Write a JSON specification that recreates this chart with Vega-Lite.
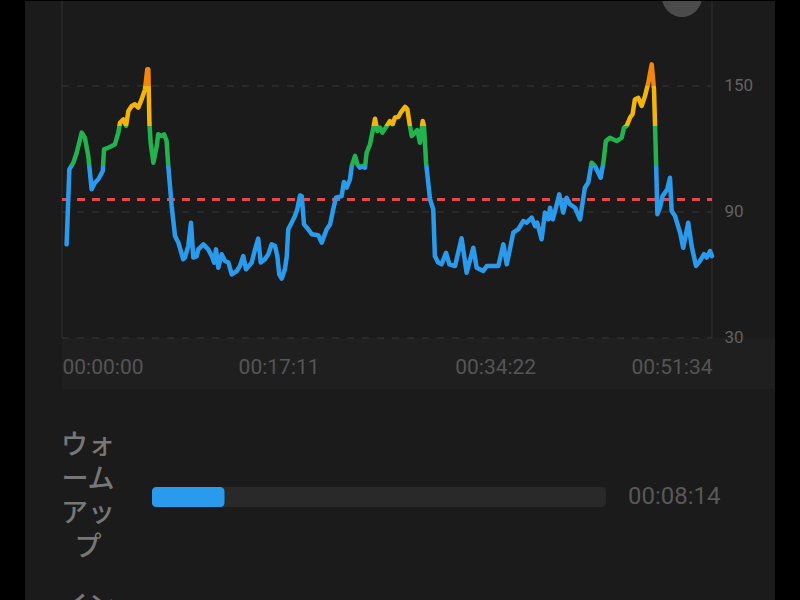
{
  "$schema": "https://vega.github.io/schema/vega-lite/v6.json",
  "background": "#000000",
  "padding": {"left": 25, "right": 25, "top": 0, "bottom": 0},
  "spacing": 0,
  "config": {"view": {"fill": "#1b1b1b", "stroke": null}, "concat": {"spacing": 0}},
  "datasets": {
    "hr": [
      {"t":22,"bpm":74.6},{"t":35,"bpm":110.3},{"t":54,"bpm":113.5},{"t":70,"bpm":118.2},{"t":94,"bpm":127.8},{"t":109,"bpm":125.4},{"t":125,"bpm":116.7},{"t":141,"bpm":100.8},{"t":157,"bpm":104},{"t":173,"bpm":105.6},{"t":194,"bpm":109.5},{"t":200,"bpm":119.8},{"t":220,"bpm":120.6},{"t":237,"bpm":121.4},{"t":252,"bpm":122.2},{"t":268,"bpm":127.8},{"t":276,"bpm":132.5},{"t":292,"bpm":134.1},{"t":305,"bpm":131},{"t":316,"bpm":138.1},{"t":332,"bpm":140.5},{"t":347,"bpm":141.3},{"t":363,"bpm":139.7},{"t":379,"bpm":143.6},{"t":395,"bpm":148.4},{"t":406,"bpm":158},{"t":411,"bpm":158},{"t":416,"bpm":132.5},{"t":422,"bpm":123},{"t":435,"bpm":113.5},{"t":451,"bpm":121.4},{"t":458,"bpm":127},{"t":475,"bpm":126.2},{"t":486,"bpm":127},{"t":498,"bpm":123.8},{"t":506,"bpm":111.9},{"t":522,"bpm":92.9},{"t":538,"bpm":78.6},{"t":554,"bpm":75.4},{"t":577,"bpm":67.5},{"t":585,"bpm":68.3},{"t":601,"bpm":73.8},{"t":614,"bpm":84.9},{"t":625,"bpm":68.3},{"t":641,"bpm":69},{"t":649,"bpm":72.2},{"t":673,"bpm":74.6},{"t":696,"bpm":72.2},{"t":713,"bpm":69},{"t":724,"bpm":65.9},{"t":733,"bpm":72.2},{"t":744,"bpm":63.5},{"t":760,"bpm":69.9},{"t":776,"bpm":66.7},{"t":792,"bpm":65.9},{"t":808,"bpm":60.3},{"t":832,"bpm":61.9},{"t":847,"bpm":64.3},{"t":863,"bpm":69},{"t":876,"bpm":62.7},{"t":903,"bpm":65.9},{"t":919,"bpm":72.2},{"t":934,"bpm":77.3},{"t":946,"bpm":65.9},{"t":966,"bpm":67.5},{"t":982,"bpm":69.9},{"t":998,"bpm":74.6},{"t":1014,"bpm":73.8},{"t":1025,"bpm":69},{"t":1034,"bpm":60.3},{"t":1046,"bpm":58.3},{"t":1061,"bpm":62.7},{"t":1070,"bpm":69},{"t":1077,"bpm":81.8},{"t":1093,"bpm":84.9},{"t":1109,"bpm":88.1},{"t":1120,"bpm":91.3},{"t":1133,"bpm":97.9},{"t":1141,"bpm":97.6},{"t":1152,"bpm":84.1},{"t":1172,"bpm":81.8},{"t":1189,"bpm":79.4},{"t":1220,"bpm":78.9},{"t":1236,"bpm":75.4},{"t":1260,"bpm":81.8},{"t":1276,"bpm":84.1},{"t":1291,"bpm":91.3},{"t":1304,"bpm":96.8},{"t":1331,"bpm":97.6},{"t":1342,"bpm":104.3},{"t":1355,"bpm":101.6},{"t":1371,"bpm":105.6},{"t":1379,"bpm":111.9},{"t":1395,"bpm":116.7},{"t":1406,"bpm":112.7},{"t":1418,"bpm":111.1},{"t":1431,"bpm":111.9},{"t":1442,"bpm":111.1},{"t":1450,"bpm":118.2},{"t":1466,"bpm":122.2},{"t":1482,"bpm":130.1},{"t":1490,"bpm":134.4},{"t":1501,"bpm":128.6},{"t":1514,"bpm":130.1},{"t":1525,"bpm":127.8},{"t":1546,"bpm":131},{"t":1561,"bpm":133.3},{"t":1574,"bpm":131.8},{"t":1585,"bpm":135},{"t":1601,"bpm":135.2},{"t":1612,"bpm":137.3},{"t":1633,"bpm":140.1},{"t":1644,"bpm":138.9},{"t":1656,"bpm":131},{"t":1665,"bpm":126.2},{"t":1680,"bpm":127.8},{"t":1691,"bpm":129},{"t":1704,"bpm":123},{"t":1717,"bpm":133.3},{"t":1723,"bpm":131},{"t":1733,"bpm":113.5},{"t":1752,"bpm":96},{"t":1767,"bpm":91.3},{"t":1775,"bpm":69},{"t":1791,"bpm":65.9},{"t":1807,"bpm":65.1},{"t":1828,"bpm":70.6},{"t":1844,"bpm":65.1},{"t":1871,"bpm":64.3},{"t":1902,"bpm":77.5},{"t":1926,"bpm":61.1},{"t":1958,"bpm":73},{"t":1974,"bpm":63.5},{"t":2005,"bpm":61.9},{"t":2022,"bpm":64.3},{"t":2077,"bpm":64.3},{"t":2101,"bpm":74.6},{"t":2117,"bpm":65.1},{"t":2132,"bpm":72.2},{"t":2148,"bpm":80.2},{"t":2172,"bpm":81.8},{"t":2196,"bpm":85.7},{"t":2212,"bpm":84.9},{"t":2236,"bpm":87.3},{"t":2252,"bpm":83.3},{"t":2262,"bpm":84.9},{"t":2283,"bpm":77},{"t":2299,"bpm":89.7},{"t":2315,"bpm":86.5},{"t":2323,"bpm":92},{"t":2336,"bpm":86.5},{"t":2351,"bpm":92},{"t":2367,"bpm":98.4},{"t":2386,"bpm":89.7},{"t":2402,"bpm":96.8},{"t":2418,"bpm":93.7},{"t":2442,"bpm":92},{"t":2466,"bpm":86.5},{"t":2478,"bpm":94.4},{"t":2489,"bpm":101.6},{"t":2505,"bpm":104},{"t":2521,"bpm":113.5},{"t":2537,"bpm":111.9},{"t":2564,"bpm":106.3},{"t":2577,"bpm":113.5},{"t":2589,"bpm":123.8},{"t":2608,"bpm":125.4},{"t":2640,"bpm":123.8},{"t":2664,"bpm":125.4},{"t":2675,"bpm":130.1},{"t":2688,"bpm":131},{"t":2704,"bpm":135},{"t":2716,"bpm":136.6},{"t":2727,"bpm":143.6},{"t":2743,"bpm":144.4},{"t":2759,"bpm":140.5},{"t":2775,"bpm":145.2},{"t":2791,"bpm":151.6},{"t":2807,"bpm":160.3},{"t":2818,"bpm":148.4},{"t":2827,"bpm":116.7},{"t":2834,"bpm":88.9},{"t":2846,"bpm":92},{"t":2859,"bpm":97.6},{"t":2881,"bpm":100.8},{"t":2894,"bpm":106.3},{"t":2902,"bpm":90.5},{"t":2918,"bpm":88.1},{"t":2942,"bpm":80.2},{"t":2957,"bpm":73},{"t":2981,"bpm":84.9},{"t":2997,"bpm":73.8},{"t":3018,"bpm":64.3},{"t":3037,"bpm":66.7},{"t":3056,"bpm":69.9},{"t":3069,"bpm":68.3},{"t":3085,"bpm":71.4},{"t":3094,"bpm":69}
    ],
    "grid": [{"bpm": 30, "start": 0, "end": 3094}, {"bpm": 90, "start": 0, "end": 3094}, {"bpm": 150, "start": 0, "end": 3094}],
    "edges": [{"t": 0, "lo": 30, "hi": 190.476}, {"t": 3094, "lo": 30, "hi": 190.476}],
    "zones": [
      {"zone": "ウォームアップ", "label": "ウォ\nーム\nアッ\nプ", "row": 0, "start": 0, "seconds": 494, "total": 3094, "time": "00:08:14"},
      {"zone": "インターバル", "label": "イン\nター\nバル", "row": 1, "start": 0, "total": 3094}
    ]
  },
  "vconcat": [
    {
      "width": 750,
      "height": 388,
      "layer": [
        {
          "data": {"values": [{"start": 0, "end": 3393.9, "lo": 5.714, "hi": 30}]},
          "mark": {"type": "rect", "color": "#1f1f1f"},
          "encoding": {
            "x": {"field": "start", "type": "quantitative", "scale": {"domain": [-176.1, 3393.9], "nice": false, "zero": false}},
            "x2": {"field": "end"},
            "y": {"field": "lo", "type": "quantitative", "scale": {"domain": [5.714, 190.476], "nice": false, "zero": false}},
            "y2": {"field": "hi"}
          }
        },
        {
          "data": {"name": "edges"},
          "mark": {"type": "rule", "color": "#313131", "strokeWidth": 1},
          "encoding": {
            "x": {"field": "t", "type": "quantitative"},
            "y": {"field": "lo", "type": "quantitative"},
            "y2": {"field": "hi"}
          }
        },
        {
          "data": {"name": "grid"},
          "mark": {"type": "rule", "color": "#383838", "strokeWidth": 1, "strokeDash": [7, 8]},
          "encoding": {
            "x": {"field": "start", "type": "quantitative"},
            "x2": {"field": "end"},
            "y": {"field": "bpm", "type": "quantitative"}
          }
        },
        {
          "data": {"values": [{"threshold": 96, "start": 0, "end": 3094}]},
          "mark": {"type": "rule", "color": "#e54848", "strokeWidth": 3, "strokeDash": [8, 7]},
          "encoding": {
            "x": {"field": "start", "type": "quantitative"},
            "x2": {"field": "end"},
            "y": {"field": "threshold", "type": "quantitative"}
          }
        },
        {
          "data": {"name": "hr"},
          "mark": {
            "type": "line",
            "strokeWidth": 4.5,
            "strokeJoin": "round",
            "strokeCap": "round",
            "stroke": {
              "gradient": "linear",
              "x1": 0, "y1": 1, "x2": 0, "y2": 0,
              "stops": [
                {"offset": 0, "color": "#2a9bec"},
                {"offset": 0.5265, "color": "#2a9bec"},
                {"offset": 0.5265, "color": "#22b34f"},
                {"offset": 0.7127, "color": "#22b34f"},
                {"offset": 0.7127, "color": "#f3b50a"},
                {"offset": 0.899, "color": "#f3b50a"},
                {"offset": 0.899, "color": "#f5860c"},
                {"offset": 1, "color": "#f5860c"}
              ]
            }
          },
          "encoding": {
            "x": {
              "field": "t", "type": "quantitative",
              "axis": {
                "title": null, "orient": "bottom", "offset": -51, "zindex": 1,
                "values": [0, 1031, 2062, 3094],
                "labelExpr": "utcFormat(datum.value * 1000, '%H:%M:%S')",
                "labelAlign": {"expr": "datum.value == 0 ? 'left' : (datum.value >= 3094 ? 'right' : 'center')"},
                "labelBaseline": "middle", "labelPadding": 29,
                "ticks": false, "tickSize": 0, "domain": false, "grid": false,
                "labelFont": "Roboto", "labelFontSize": 21, "labelColor": "#555555",
                "labelOverlap": false, "labelFlush": false, "labelBound": false
              }
            },
            "y": {
              "field": "bpm", "type": "quantitative",
              "axis": {
                "title": null, "orient": "right", "offset": -63, "zindex": 1,
                "values": [30, 90, 150],
                "labelAlign": "left", "labelBaseline": "middle", "labelPadding": 12,
                "ticks": false, "tickSize": 0, "domain": false, "grid": false,
                "labelFont": "Roboto", "labelFontSize": 17, "labelColor": "#626262"
              }
            }
          }
        },
        {
          "data": {"values": [{"t": 2951, "bpm": 192.4}]},
          "mark": {"type": "point", "filled": true, "color": "#4b4b4b", "opacity": 1, "size": 1600, "clip": true},
          "encoding": {
            "x": {"field": "t", "type": "quantitative"},
            "y": {"field": "bpm", "type": "quantitative"}
          }
        }
      ]
    },
    {
      "width": 750,
      "height": 212,
      "data": {"name": "zones"},
      "layer": [
        {
          "transform": [{"filter": "isValid(datum.seconds)"}],
          "mark": {"type": "bar", "color": "#292929", "size": 20, "cornerRadius": 4, "clip": true, "orient": "horizontal"},
          "encoding": {
            "x": {"field": "start", "type": "quantitative", "scale": {"domain": [-865.5, 4245.8], "nice": false, "zero": false}, "axis": null},
            "x2": {"field": "total"},
            "y": {"field": "row", "type": "quantitative", "scale": {"domain": [-0.639, 0.6154], "reverse": true, "nice": false, "zero": false}, "axis": null}
          }
        },
        {
          "transform": [{"filter": "isValid(datum.seconds)"}],
          "mark": {"type": "bar", "color": "#2a9bec", "size": 20, "cornerRadius": 4, "clip": true, "orient": "horizontal"},
          "encoding": {
            "x": {"field": "start", "type": "quantitative", "scale": {"domain": [-865.5, 4245.8], "nice": false, "zero": false}, "axis": null},
            "x2": {"field": "seconds"},
            "y": {"field": "row", "type": "quantitative", "scale": {"domain": [-0.639, 0.6154], "reverse": true, "nice": false, "zero": false}, "axis": null}
          }
        },
        {
          "transform": [{"filter": "isValid(datum.seconds)"}],
          "mark": {"type": "text", "align": "left", "baseline": "middle", "dx": 22, "font": "Roboto", "fontSize": 24, "color": "#585858", "clip": true},
          "encoding": {
            "x": {"field": "total", "type": "quantitative", "scale": {"domain": [-865.5, 4245.8], "nice": false, "zero": false}, "axis": null},
            "y": {"field": "row", "type": "quantitative", "scale": {"domain": [-0.639, 0.6154], "reverse": true, "nice": false, "zero": false}, "axis": null},
            "text": {"field": "time"}
          }
        },
        {
          "mark": {"type": "text", "align": "center", "baseline": "middle", "dx": -64, "dy": -51, "font": "Noto Sans CJK JP", "fontSize": 27, "fontWeight": 500, "lineHeight": 34, "lineBreak": "\n", "color": "#777777", "clip": true},
          "encoding": {
            "x": {"field": "start", "type": "quantitative", "scale": {"domain": [-865.5, 4245.8], "nice": false, "zero": false}, "axis": null},
            "y": {"field": "row", "type": "quantitative", "scale": {"domain": [-0.639, 0.6154], "reverse": true, "nice": false, "zero": false}, "axis": null},
            "text": {"field": "label"}
          }
        }
      ]
    }
  ]
}
